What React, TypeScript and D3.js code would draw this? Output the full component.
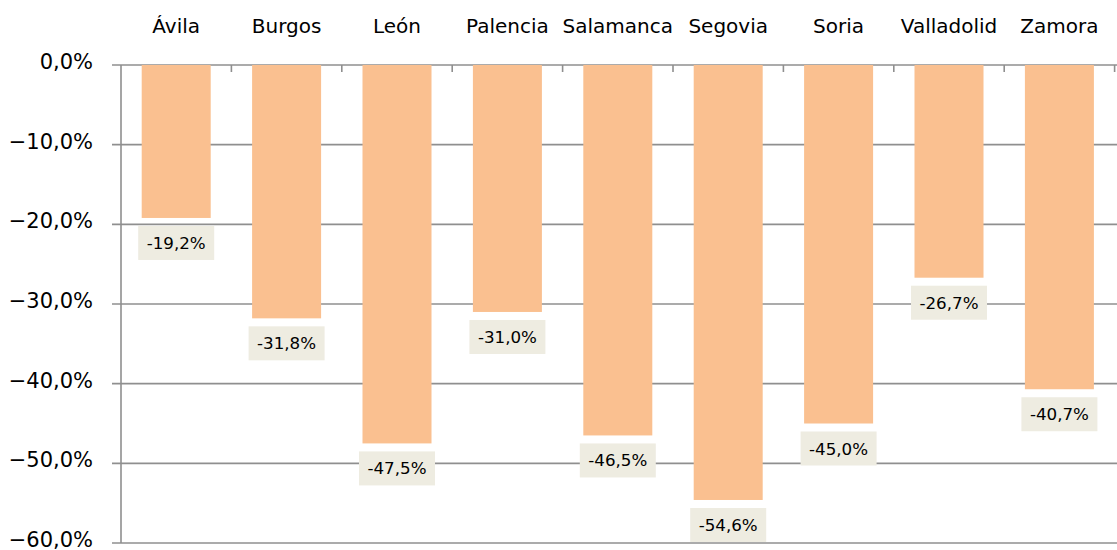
import React from "react";
import * as d3 from "d3";

const categories = ["Ávila", "Burgos", "León", "Palencia", "Salamanca", "Segovia", "Soria", "Valladolid", "Zamora"];
const values = [-19.2, -31.8, -47.5, -31.0, -46.5, -54.6, -45.0, -26.7, -40.7];
const yTicks = [0, -10, -20, -30, -40, -50, -60];

const W = 1117;
const H = 550;
const FONT = "DejaVu Sans, Verdana, sans-serif";

const fmt = (v: number) => v.toFixed(1).replace(".", ",") + "%";
const fmtAxis = (v: number) => (v < 0 ? "\u2212" : "") + Math.abs(v).toFixed(1).replace(".", ",") + "%";

export default function App() {
  const x = d3.scaleBand<string>().domain(categories).range([121, 1114.6]).paddingInner(0.375).paddingOuter(0.1875);
  const step = x.step();
  const y = d3.scaleLinear().domain([-60, 0]).range([543, 65]);
  const x0 = 121;
  const grid = "#8f8f8f";
  const bounds = categories.map((_, i) => x0 + i * step);
  bounds.push(x0 + categories.length * step);

  return (
    <svg width={W} height={H} style={{ position: "absolute", left: 0, top: 0, background: "#fff" }}>
      {yTicks.map((t) => (
        <g key={t}>
          <line x1={112} x2={W} y1={y(t)} y2={y(t)} stroke={grid} strokeWidth={1.6} />
          <text x={93} y={y(t) + 4} textAnchor="end" fontFamily={FONT} fontSize={21} fill="#000">
            {fmtAxis(t)}
          </text>
        </g>
      ))}
      {categories.map((c, i) => {
        const v = values[i];
        const bx = x(c)!;
        const bw = x.bandwidth();
        const cx = bx + bw / 2;
        const yEnd = y(v);
        return (
          <g key={c}>
            <rect x={bx} y={y(0)} width={bw} height={yEnd - y(0)} fill="#FAC090" />
            <rect x={cx - 38} y={yEnd + 8} width={76} height={34} fill="#EEECE1" />
            <text x={cx} y={yEnd + 31} textAnchor="middle" fontFamily={FONT} fontSize={16.7} fill="#000">
              {fmt(v)}
            </text>
            <text x={cx} y={33} textAnchor="middle" fontFamily={FONT} fontSize={20} fill="#000">
              {c}
            </text>
          </g>
        );
      })}
      {bounds.slice(1).map((b, i) => (
        <line key={i} x1={b} x2={b} y1={y(0)} y2={y(0) + 7} stroke={grid} strokeWidth={1.6} />
      ))}
      <line x1={x0} x2={x0} y1={y(0)} y2={y(-60)} stroke={grid} strokeWidth={1.6} />
    </svg>
  );
}
